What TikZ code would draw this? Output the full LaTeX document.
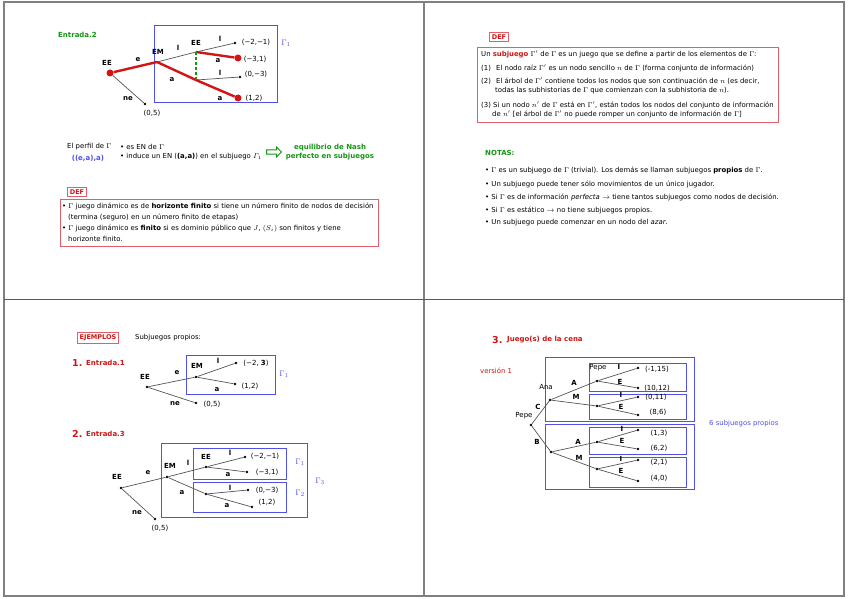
\documentclass[tikz,border=0pt]{standalone}
\usepackage{fontspec}
\setmainfont{DejaVu Sans}
\usetikzlibrary{shapes.arrows}
\definecolor{myred}{RGB}{210,20,20}
\definecolor{boxred}{RGB}{225,95,105}
\definecolor{mygreen}{RGB}{20,150,20}
\definecolor{myblue}{RGB}{80,80,235}
\definecolor{edgegray}{RGB}{85,85,85}
\begin{document}
\begin{tikzpicture}[x=1pt,y=-1pt,
  txt/.style={font=\fontsize{6.9}{8}\selectfont, inner sep=0pt, anchor=west},
  lbl/.style={font=\fontsize{7}{8}\selectfont\bfseries, inner sep=0pt},
  pay/.style={font=\fontsize{7}{8}\selectfont, inner sep=0pt},
  dot/.style={circle, fill=black, inner sep=0pt, minimum size=2.6pt},
  rdot/.style={circle, fill=myred, inner sep=0pt, minimum size=7pt},
  edge/.style={draw=edgegray, line width=0.7pt},
  redge/.style={draw=myred, line width=2.4pt},
  bluebox/.style={draw=myblue, line width=1pt},
  redbox/.style={draw=boxred, line width=1pt},
  deftag/.style={draw=boxred, line width=1pt, text=myred, font=\fontsize{6.5}{8}\selectfont\bfseries, inner sep=2pt},
  gam/.style={text=myblue, font=\fontsize{8.5}{9}\selectfont, inner sep=0pt},
  numtitle/.style={text=myred, font=\fontsize{9.5}{11}\selectfont\bfseries, inner sep=0pt, anchor=west},
  redtitle/.style={text=myred, font=\fontsize{7}{8}\selectfont\bfseries, inner sep=0pt, anchor=west}
]
\useasboundingbox (0,0) rectangle (848,599);
\fill[white] (0,0) rectangle (848,599);
% frames
\draw[gray, line width=1.2pt] (4,2) rectangle (844,596);
\draw[gray, line width=1.8pt] (424,2) -- (424,596);
\draw[black!65, line width=0.8pt] (4,299) -- (844,299);

%%%%%%%%%%%%%%%% PANEL 1
\node[inner sep=0pt, anchor=west, text=mygreen, font=\fontsize{7}{8}\selectfont\bfseries] (ent2) at (58,35) {Entrada.2};
\draw[bluebox] (154,26) rectangle (277,103);
\node[gam] (g1a) at (286,43) {$\Gamma_1$};
\node[rdot] (ee) at (110,73) {};
\coordinate (em) at (157,62);
\coordinate (eeu) at (196,52);
\coordinate (eed) at (196,80);
\node[dot] (z05) at (145,104) {};
\node[dot] (m21) at (235,43) {};
\node[rdot] (m31) at (238,58) {};
\node[dot] (z03) at (240,77) {};
\node[rdot] (p12) at (238,98) {};
\draw[edge] (ee) -- (z05);
\draw[edge] (em) -- (eeu);
\draw[edge] (eeu) -- (m21);
\draw[edge] (eed) -- (z03);
\draw[redge] (ee) -- (em);
\draw[redge] (em) -- (eed) -- (p12);
\draw[redge] (eeu) -- (m31);
\draw[mygreen, line width=1.2pt, dash pattern=on 3pt off 2pt] (eeu) -- (eed);
\node[lbl] (l1) at (107,63) {EE};
\node[lbl] (l2) at (158,52) {EM};
\node[lbl] (l3) at (138,60) {e};
\node[lbl] (l4) at (128,99) {ne};
\node[pay] (l5) at (152,113) {(0,5)};
\node[lbl] (l6) at (196,43) {EE};
\node[lbl] (l7) at (178,48) {l};
\node[lbl] (l8) at (220,39) {l};
\node[pay] (l9) at (256,42) {(−2,−1)};
\node[pay] (l10) at (255,59) {(−3,1)};
\node[lbl] (l11) at (218,61) {a};
\node[lbl] (l12) at (220,73) {l};
\node[pay] (l13) at (256,74) {(0,−3)};
\node[lbl] (l14) at (172,80) {a};
\node[pay] (l15) at (254,98) {(1,2)};
\node[lbl] (l16) at (220,99) {a};

\node[txt] (pf1) at (67,147) {El perfil de $\Gamma$};
\node[inner sep=0pt, text=myblue, font=\fontsize{7}{8}\selectfont\bfseries] (pf2) at (88,158) {((e,a),a)};
\node[txt] (pf3) at (120,147) {• es EN de $\Gamma$};
\node[txt] (pf4) at (120,157) {• induce un EN (\textbf{(a,a)}) en el subjuego $\mathnormal{\Gamma}_1$};
\node[single arrow, draw=mygreen, line width=0.9pt, minimum height=15pt, minimum width=10pt, single arrow head extend=2pt, inner sep=1pt] (arr) at (273,152) {};
\node[inner sep=0pt, align=center, text=mygreen, font=\fontsize{7}{9}\selectfont\bfseries] (enpe) at (330,152) {equilibrio de Nash\\perfecto en subjuegos};

\node[deftag] (def1) at (77,192) {DEF};
\draw[redbox] (60,199) rectangle (378,246);
\node[txt] (d1) at (62,206) {• $\Gamma$ juego dinámico es de \textbf{horizonte finito} si tiene un número finito de nodos de decisión};
\node[txt] (d2) at (68,217) {(termina (seguro) en un número finito de etapas)};
\node[txt] (d3) at (62,229) {• $\Gamma$ juego dinámico es \textbf{finito} si es dominio público que $J$, $(S_{i})$ son finitos y tiene};
\node[txt] (d4) at (68,239) {horizonte finito.};

%%%%%%%%%%%%%%%% PANEL 2
\node[deftag] (def2) at (499,37) {DEF};
\draw[redbox] (477,48) rectangle (778,123);
\node[txt] (s1) at (481,54) {Un \textcolor{myred}{\textbf{subjuego}} $\Gamma'$ de $\Gamma$ es un juego que se define a partir de los elementos de $\Gamma$:};
\node[txt] (s2) at (481,68) {(1)\hspace{3pt} El nodo raíz $\Gamma'$ es un nodo sencillo $n$ de $\Gamma$ (forma conjunto de información)};
\node[txt] (s3) at (481,81) {(2)\hspace{3pt} El árbol de $\Gamma'$ contiene todos los nodos que son continuación de $n$ (es decir,};
\node[txt] (s4) at (495,91) {todas las subhistorias de $\Gamma$ que comienzan con la subhistoria de $n$).};
\node[txt] (s5) at (481,105) {(3) Si un nodo $n'$ de $\Gamma$ está en $\Gamma'$, están todos los nodos del conjunto de información};
\node[txt] (s6) at (492,114) {de $n'$ [el árbol de $\Gamma'$ no puede romper un conjunto de información de $\Gamma$]};

\node[inner sep=0pt, anchor=west, text=mygreen, font=\fontsize{7}{8}\selectfont\bfseries] (notas) at (485,153) {NOTAS:};
\node[txt] (n1) at (485,170) {• $\Gamma$ es un subjuego de $\Gamma$ (trivial). Los demás se llaman subjuegos \textbf{propios} de $\Gamma$.};
\node[txt] (n2) at (485,184) {• Un subjuego puede tener sólo movimientos de un único jugador.};
\node[txt] (n3) at (485,197) {• Si $\Gamma$ es de información \textit{perfecta} $\rightarrow$ tiene tantos subjuegos como nodos de decisión.};
\node[txt] (n4) at (485,210) {• Si $\Gamma$ es estático $\rightarrow$ no tiene subjuegos propios.};
\node[txt] (n5) at (485,223) {• Un subjuego puede comenzar en un nodo del \textit{azar}.};

%%%%%%%%%%%%%%%% PANEL 3
\node[deftag] (ejem) at (98,338) {EJEMPLOS};
\node[txt] (subp) at (135,338) {Subjuegos propios:};
\node[numtitle] (one) at (72,363) {1.};
\node[redtitle] (ent1) at (86,363) {Entrada.1};
\draw[bluebox] (186,355) rectangle (275,394);
\node[gam] (g1b) at (284,374) {$\Gamma_1$};
\node[dot] (r1) at (147,387) {};
\node[dot] (em1) at (196,377) {};
\node[dot] (e1a) at (236,363) {};
\node[dot] (e1b) at (235,384) {};
\node[dot] (e1c) at (196,403) {};
\draw[edge] (r1) -- (em1) -- (e1a);
\draw[edge] (em1) -- (e1b);
\draw[edge] (r1) -- (e1c);
\node[lbl] (k1) at (145,377) {EE};
\node[lbl] (k2) at (177,373) {e};
\node[lbl] (k3) at (197,366) {EM};
\node[lbl] (k4) at (218,361) {l};
\node[lbl] (k5) at (217,390) {a};
\node[pay] (k6) at (256,363) {(−2, \textbf{3})};
\node[pay] (k7) at (250,386) {(1,2)};
\node[lbl] (k8) at (175,404) {ne};
\node[pay] (k9) at (212,404) {(0,5)};

\node[numtitle] (two) at (72,434) {2.};
\node[redtitle] (ent3) at (86,434) {Entrada.3};
\draw[bluebox] (161,443) rectangle (307,517);
\draw[bluebox] (193,448) rectangle (286,479);
\draw[bluebox] (193,482) rectangle (286,512);
\node[gam] (g3) at (320,481) {$\Gamma_3$};
\node[gam] (g1c) at (300,462) {$\Gamma_1$};
\node[gam] (g2) at (300,493) {$\Gamma_2$};
\node[dot] (r3) at (121,488) {};
\node[dot] (em3) at (167,477) {};
\node[dot] (u3) at (206,467) {};
\node[dot] (d3n) at (206,494) {};
\node[dot] (f1) at (245,457) {};
\node[dot] (f2) at (247,472) {};
\node[dot] (f3) at (248,490) {};
\node[dot] (f4) at (252,507) {};
\node[dot] (f5) at (155,519) {};
\draw[edge] (r3) -- (em3) -- (u3) -- (f1);
\draw[edge] (u3) -- (f2);
\draw[edge] (em3) -- (d3n) -- (f3);
\draw[edge] (d3n) -- (f4);
\draw[edge] (r3) -- (f5);
\node[lbl] (q1) at (117,477) {EE};
\node[lbl] (q2) at (148,473) {e};
\node[lbl] (q3) at (170,466) {EM};
\node[lbl] (q4) at (188,463) {l};
\node[lbl] (q5) at (206,457) {EE};
\node[lbl] (q6) at (230,453) {l};
\node[pay] (q7) at (265,456) {(−2,−1)};
\node[lbl] (q8) at (228,475) {a};
\node[pay] (q9) at (267,472) {(−3,1)};
\node[lbl] (q10) at (230,488) {l};
\node[pay] (q11) at (267,490) {(0,−3)};
\node[lbl] (q12) at (182,493) {a};
\node[lbl] (q13) at (227,506) {a};
\node[pay] (q14) at (267,502) {(1,2)};
\node[lbl] (q15) at (137,513) {ne};
\node[pay] (q16) at (160,528) {(0,5)};

%%%%%%%%%%%%%%%% PANEL 4
\node[numtitle] (three) at (492,340) {3.};
\node[redtitle] (cena) at (507,340) {Juego(s) de la cena};
\node[txt, text=myred] (ver) at (480,371) {versión 1};
\draw[bluebox] (545,357) rectangle (694,421);
\draw[bluebox] (545,424) rectangle (694,489);
\draw[bluebox] (589,363) rectangle (686,391);
\draw[bluebox] (589,394) rectangle (686,419);
\draw[bluebox] (589,427) rectangle (686,454);
\draw[bluebox] (589,457) rectangle (686,487);
\node[txt, text=myblue] (six) at (709,424) {6 subjuegos propios};
\node[dot] (pepe) at (531,425) {};
\node[dot] (ana) at (550,400) {};
\node[dot] (bn) at (551,452) {};
\node[dot] (a1) at (597,381) {};
\node[dot] (m1) at (597,406) {};
\node[dot] (a2) at (597,442) {};
\node[dot] (m2) at (597,469) {};
\node[dot] (t1) at (638,368) {};
\node[dot] (t2) at (638,388) {};
\node[dot] (t3) at (638,397) {};
\node[dot] (t4) at (638,415) {};
\node[dot] (t5) at (638,430) {};
\node[dot] (t6) at (638,449) {};
\node[dot] (t7) at (638,460) {};
\node[dot] (t8) at (638,481) {};
\draw[edge] (pepe) -- (ana);
\draw[edge] (pepe) -- (bn);
\draw[edge] (ana) -- (a1);
\draw[edge] (ana) -- (m1);
\draw[edge] (bn) -- (a2);
\draw[edge] (bn) -- (m2);
\draw[edge] (a1) -- (t1);
\draw[edge] (a1) -- (t2);
\draw[edge] (m1) -- (t3);
\draw[edge] (m1) -- (t4);
\draw[edge] (a2) -- (t5);
\draw[edge] (a2) -- (t6);
\draw[edge] (m2) -- (t7);
\draw[edge] (m2) -- (t8);
\node[pay] (w1) at (524,416) {Pepe};
\node[lbl] (w2) at (538,407) {C};
\node[lbl] (w3) at (537,442) {B};
\node[pay] (w4) at (546,387) {Ana};
\node[lbl] (w5) at (574,383) {A};
\node[lbl] (w6) at (576,397) {M};
\node[pay] (w7) at (598,368) {Pepe};
\node[lbl] (w8) at (619,367) {I};
\node[lbl] (w9) at (620,382) {E};
\node[lbl] (w10) at (621,395) {I};
\node[lbl] (w11) at (621,407) {E};
\node[lbl] (w12) at (578,442) {A};
\node[lbl] (w13) at (579,458) {M};
\node[lbl] (w14) at (622,429) {I};
\node[lbl] (w15) at (622,441) {E};
\node[lbl] (w16) at (621,459) {I};
\node[lbl] (w17) at (621,471) {E};
\node[pay] (v1) at (657,369) {(-1,15)};
\node[pay] (v2) at (657,388) {(10,12)};
\node[pay] (v3) at (656,397) {(0,11)};
\node[pay] (v4) at (658,412) {(8,6)};
\node[pay] (v5) at (659,433) {(1,3)};
\node[pay] (v6) at (659,448) {(6,2)};
\node[pay] (v7) at (659,462) {(2,1)};
\node[pay] (v8) at (659,478) {(4,0)};
\end{tikzpicture}
\end{document}
